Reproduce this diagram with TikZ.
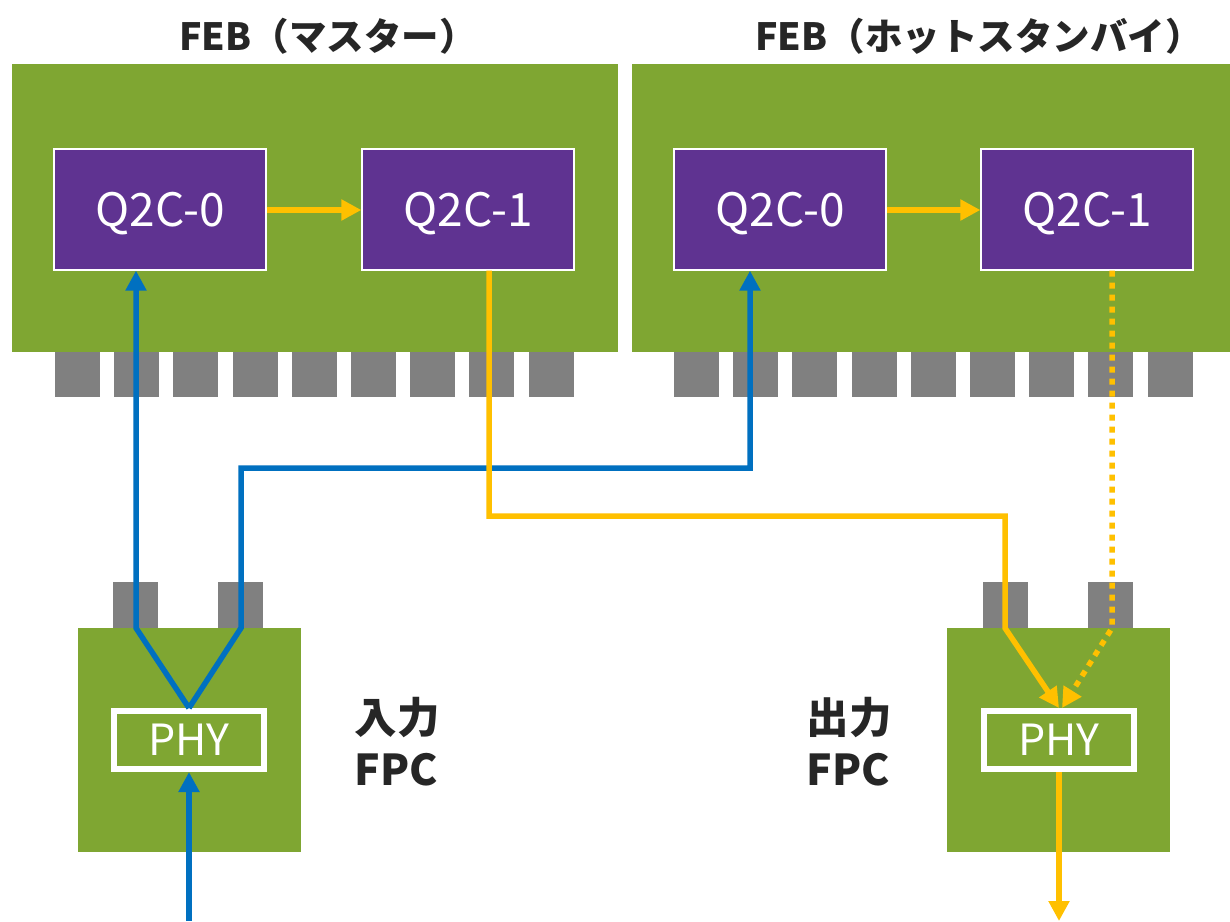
\documentclass[tikz,border=0pt]{standalone}
\usepackage{fontspec}
\setmainfont{Noto Sans CJK JP}
\usetikzlibrary{arrows.meta}
\definecolor{febgreen}{HTML}{7FA632}
\definecolor{qpurple}{HTML}{5F3391}
\definecolor{padgray}{HTML}{808080}
\definecolor{lblue}{HTML}{0070C0}
\definecolor{lyellow}{HTML}{FFC000}
\definecolor{txt}{HTML}{262626}
\begin{document}
\begin{tikzpicture}[x=1pt,y=-1pt,
  board/.style={fill=febgreen, inner sep=0pt, outer sep=0pt},
  chip/.style={fill=qpurple, draw=white, line width=1.2pt, inner sep=0pt,
    minimum width=212pt, minimum height=121pt},
  chiptext/.style={text=white, font=\fontsize{46}{50}\selectfont, inner sep=0pt},
  pad/.style={fill=padgray, inner sep=0pt, outer sep=0pt, minimum width=45pt, minimum height=45pt},
  phybox/.style={draw=white, line width=6pt, inner sep=0pt, minimum width=150pt, minimum height=58pt,
    text=white, font=\fontsize{43}{46}\selectfont},
  title/.style={text=txt, font=\fontsize{37.5}{40}\selectfont\bfseries},
  fpclabel/.style={text=txt, font=\fontsize{42.5}{52}\selectfont\bfseries, align=left, anchor=west},
  blueline/.style={draw=lblue, line width=5.5pt},
  yline/.style={draw=lyellow, line width=5.5pt},
  btip/.style={-{Triangle[length=20pt,width=20pt]}},
  ytip/.style={-{Triangle[length=20pt,width=20pt]}}
]
\useasboundingbox (0,0) rectangle (1230,921);
\fill[white] (0,0) rectangle (1230,921);

% titles
\node[title] (t1) at (328,36) {FEB（マスター）};
\node[title] (t2) at (979,36) {FEB（ホットスタンバイ）};

% FEB boards
\node[board, minimum width=606pt, minimum height=288pt] (febL) at (315,208) {};
\node[board, minimum width=598pt, minimum height=288pt] (febR) at (931,208) {};

% pads of FEBs
\foreach \i in {0,...,8} {
  \node[pad] (pL\i) at ({77.5+59.2*\i},374.5) {};
  \node[pad] (pR\i) at ({696.5+59.2*\i},374.5) {};
}

% chips
\node[chip] (q0L) at (160,209.5) {};
\node[chip] (q1L) at (468,209.5) {};
\node[chip] (q0R) at (780,209.5) {};
\node[chip] (q1R) at (1087,209.5) {};
\node[chiptext] (q0Lt) at ([yshift=-4pt]q0L.center) {Q2C-0};
\node[chiptext] (q1Lt) at ([yshift=-4pt]q1L.center) {Q2C-1};
\node[chiptext] (q0Rt) at ([yshift=-4pt]q0R.center) {Q2C-0};
\node[chiptext] (q1Rt) at ([yshift=-4pt]q1R.center) {Q2C-1};

% FPC boards
\node[board, minimum width=223pt, minimum height=224pt] (fpcL) at (189.5,740) {};
\node[board, minimum width=223pt, minimum height=224pt] (fpcR) at (1058.5,740) {};
\node[pad, minimum height=46pt] (fL1) at (135.5,605) {};
\node[pad, minimum height=46pt] (fL2) at (240.5,605) {};
\node[pad, minimum height=46pt] (fR1) at (1005.5,605) {};
\node[pad, minimum height=46pt] (fR2) at (1110.5,605) {};

% PHY
\node[phybox] (phyL) at (189,740) {PHY};
\node[phybox] (phyR) at (1059,740) {PHY};

% labels
\node[fpclabel] (inlab) at (351,742) {入力\\FPC};
\node[fpclabel] (outlab) at (803,742) {出力\\FPC};

% coordinates
\coordinate (inS) at (189,921);
\coordinate (outS) at (1059,921);
\coordinate (b1) at (136,628);
\coordinate (b2) at (241,628);
\coordinate (b3) at (241,468);
\coordinate (b4) at (750,468);
\coordinate (y1) at (489,516);
\coordinate (y2) at (1005,516);
\coordinate (y3) at (1005,628);
\coordinate (y4) at (1112,628);
\coordinate (tipR) at (1059,708);

% yellow chip-to-chip
\draw[yline, ytip] (q0L.east |- 0,210) -- (q1L.west |- 0,210);
\draw[yline, ytip] (q0R.east |- 0,210) -- (q1R.west |- 0,210);

% blue lines
\draw[blueline, btip] (phyL.north) -- (b1) -- (b1 |- q0L.south);
\draw[blueline, btip] (phyL.north) -- (b2) -- (b3) -- (b4) -- (b4 |- q0R.south);
\draw[blueline, btip] (inS) -- (phyL.south);

% yellow lines
\draw[yline, ytip] (q1L.south -| y1) -- (y1) -- (y2) -- (y3) -- (tipR);
\draw[yline, ytip, dash pattern=on 6pt off 6pt] (q1R.south -| y4) -- (y4) -- ([xshift=3pt]tipR);
\draw[yline, ytip] (phyR.south) -- (outS);
\end{tikzpicture}
\end{document}
